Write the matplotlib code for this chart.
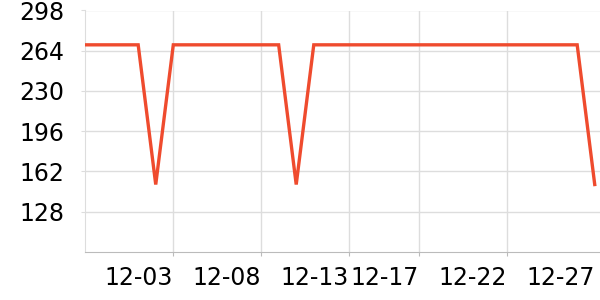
import matplotlib

matplotlib.use("Agg")

import matplotlib.pyplot as plt
import numpy as np

days = ["11-28", "11-29", "11-30"] + [f"12-{d:02d}" for d in range(1, 28)]
values = [269, 269, 269, 269, 151, 269, 269, 269, 269, 269,
          269, 269, 151, 269, 269, 269, 269, 269, 269, 269,
          269, 269, 269, 269, 269, 269, 269, 269, 269, 151]
tick_labels = ["12-03", "12-08", "12-13", "12-17", "12-22", "12-27"]
y_ticks = [128, 162, 196, 230, 264, 298]

LINE = "#ef4b2e"
GRID = "#dddddd"

fig = plt.figure(figsize=(6, 3), dpi=100)
ax = fig.add_axes([0.1425, 0.16, 0.8575, 0.805])

x = np.arange(len(days))
ax.plot(x, values, color=LINE, linewidth=2.4, solid_joinstyle="miter", zorder=3)

tick_pos = [days.index(t) for t in tick_labels]
ax.set_xticks(tick_pos)
ax.set_xticklabels(tick_labels, ha="right", fontsize=17)
ax.set_yticks(y_ticks)
ax.set_yticklabels([str(v) for v in y_ticks], fontsize=17)
ax.set_xlim(0, len(days) - 1 + 0.3)
ax.set_ylim(94, 298)

ax.grid(True, color=GRID, linewidth=1)
ax.set_axisbelow(True)
ax.get_xgridlines()[-1].set_visible(False)
ax.xaxis.get_major_ticks()[-1].tick1line.set_visible(False)

for s in ["top", "right"]:
    ax.spines[s].set_visible(False)
ax.spines["left"].set_color(GRID)
ax.spines["bottom"].set_color("#bbbbbb")
ax.tick_params(axis="x", length=3, color="#bbbbbb", pad=7)
ax.tick_params(axis="y", length=3, color=GRID, pad=12)

fig.savefig("out.png", dpi=100)
